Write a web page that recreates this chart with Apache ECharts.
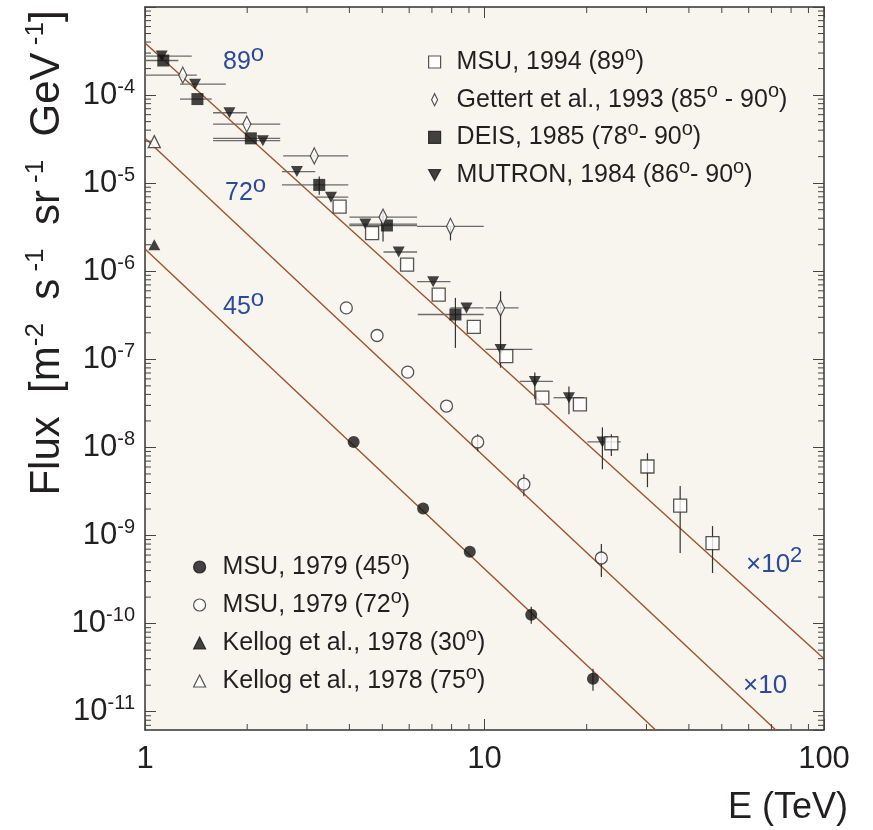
<!DOCTYPE html>
<html>
<head>
<meta charset="utf-8">
<script src="https://cdn.jsdelivr.net/npm/echarts@6/dist/echarts.min.js"></script>
<style>html,body{margin:0;padding:0;background:#fff}#c{width:873px;height:830px}</style>
</head>
<body>
<div id="c"></div>
<script>
// ---------------- data ----------------
// MUTRON, 1984 (86°-90°)
const mutronE   = [1.12, 1.404, 1.773, 2.224, 2.802, 3.53, 4.457, 5.588, 7.06, 8.85, 11.15, 14.07, 17.73, 22.25];
const mutronF   = [2.77e-4, 1.33e-4, 6.30e-5, 3.04e-5, 1.353e-5, 6.94e-6, 3.43e-6, 1.654e-6, 7.62e-7, 3.84e-7, 1.295e-7, 5.62e-8, 3.67e-8, 1.154e-8];
const mutronELo = [1.0, 1.268, 1.587, 1.587, 2.531, 3.173, 4.0, 5.04, 6.33, 7.94, 10.07, 12.71, 15.98, 20.09];
const mutronEHi = [1.373, 1.73, 1.995, 2.502, 3.173, 3.97, 6.33, 6.33, 7.94, 9.93, 13.83, 15.91, 19.59, 25.19];
const mutronFLo = [0, 0, 0, 0, 0, 0, 0, 0, 0, 0, 0, 3.52e-8, 2.38e-8, 5.66e-9];
const mutronFHi = [0, 0, 0, 0, 0, 0, 0, 0, 0, 0, 0, 7.11e-8, 4.93e-8, 1.69e-8];

// DEIS, 1985 (78°-90°)
const deisE   = [1.132, 1.427, 2.05, 3.26, 5.16, 8.21];
const deisF   = [2.47e-4, 9.01e-5, 3.23e-5, 9.56e-6, 3.31e-6, 3.23e-7];
const deisELo = [1.0, 1.268, 1.587, 2.531, 4.0, 6.36];
const deisEHi = [1.254, 1.573, 2.502, 3.97, 6.33, 9.95];
const deisFLo = [0, 0, 0, 7.37e-6, 0, 1.35e-7];
const deisFHi = [0, 0, 0, 1.19e-5, 0, 4.99e-7];

// Gettert et al., 1993 (85°-90°)
const gettertE   = [1.292, 1.995, 3.152, 5.025, 7.94, 11.15];
const gettertF   = [1.684e-4, 4.69e-5, 2.04e-5, 4.12e-6, 3.23e-6, 3.84e-7];
const gettertELo = [1.0, 1.587, 2.553, 4.0, 6.33, 10.07];
const gettertEHi = [1.421, 2.502, 3.97, 6.33, 9.95, 12.6];
const gettertFLo = [0, 0, 0, 2.18e-6, 2.24e-6, 8.03e-8];
const gettertFHi = [0, 0, 0, 4.77e-6, 3.23e-6, 5.92e-7];

// MSU, 1994 (89°)
const msu94E   = [3.743, 4.665, 5.915, 7.33, 9.30, 11.59, 14.80, 19.1, 23.64, 30.2, 37.7, 46.95];
const msu94F   = [5.43e-6, 2.71e-6, 1.188e-6, 5.43e-7, 2.34e-7, 1.087e-7, 3.67e-8, 3.08e-8, 1.116e-8, 6.08e-9, 2.18e-9, 8.22e-10];
const msu94FLo = [0, 0, 0, 0, 0, 0, 0, 0, 8.01e-9, 3.54e-9, 6.34e-10, 3.76e-10];
const msu94FHi = [0, 0, 0, 0, 0, 0, 0, 0, 1.41e-8, 8.6e-9, 3.66e-9, 1.28e-9];

// MSU, 1979 (72°)
const msu72E   = [3.917, 4.826, 5.94, 7.73, 9.55, 13.06, 22.09];
const msu72F   = [3.84e-7, 1.865e-7, 7.16e-8, 2.95e-8, 1.154e-8, 3.83e-9, 5.56e-10];
const msu72FLo = [0, 0, 0, 0, 9.06e-9, 2.8e-9, 3.39e-10];
const msu72FHi = [0, 0, 0, 0, 1.41e-8, 4.97e-9, 8.02e-10];

// MSU, 1979 (45°)
const msu45E   = [4.117, 6.595, 9.05, 13.73, 20.87];
const msu45F   = [1.154e-8, 2.03e-9, 6.55e-10, 1.258e-10, 2.37e-11];
const msu45FLo = [0, 0, 0, 9.95e-11, 1.73e-11];
const msu45FHi = [0, 0, 0, 1.55e-10, 3.08e-11];

// Kellog et al., 1978
const kellog30E = [1.065];
const kellog30F = [2.0e-6];
const kellog75E = [1.065];
const kellog75F = [2.96e-5];

// fitted power-law lines (end points at E = 1 and E = 100 TeV)
const lineE   = [1, 100];
const line89F = [3.91e-4, 4.0e-11];
const line72F = [3.23e-5, 1.9e-12];
const line45F = [1.79e-6, 9.8e-14];

// axes
const X_MIN = 1, X_MAX = 100, Y_MIN = 6.2e-12, Y_MAX = 1e-3;
const xTickLabels = ['1', '10', '100'];
const minorMult = [2, 3, 4, 5, 6, 7, 8, 9];
const xDecades = [1, 10];
const yDecades = [1e-12, 1e-11, 1e-10, 1e-9, 1e-8, 1e-7, 1e-6, 1e-5, 1e-4];

const seriesNames = {
  msu94: 'MSU, 1994 (89°)',
  gettert: 'Gettert et al., 1993 (85° - 90°)',
  deis: 'DEIS, 1985 (78°- 90°)',
  mutron: 'MUTRON, 1984 (86°- 90°)',
  msu45: 'MSU, 1979 (45°)',
  msu72: 'MSU, 1979 (72°)',
  kellog30: 'Kellog et al., 1978 (30°)',
  kellog75: 'Kellog et al., 1978 (75°)'
};

// ---------------- helpers ----------------
const FONT = '"Liberation Sans", Arial, Helvetica, sans-serif';
const INK = '#231f20';
const BLUE = '#2b4a9b';
const FIT = '#a0522d';

function pts(E, F) { return E.map((e, i) => [e, F[i]]); }
function errs(E, F, eLo, eHi, fLo, fHi) {
  return E.map((e, i) => [e, F[i], eLo ? eLo[i] : 0, eHi ? eHi[i] : 0, fLo ? fLo[i] : 0, fHi ? fHi[i] : 0]);
}
const xMinor = [];
xDecades.forEach(d => minorMult.forEach(m => { const v = m * d; if (v > X_MIN && v < X_MAX) xMinor.push(v); }));
const yMinor = [];
yDecades.forEach(d => minorMult.forEach(m => { const v = m * d; if (v > Y_MIN && v < Y_MAX) yMinor.push(v); }));

function errRender(params, api) {
  const E = api.value(0), F = api.value(1);
  const eLo = api.value(2), eHi = api.value(3), fLo = api.value(4), fHi = api.value(5);
  const children = [];
  if (eLo > 0 && eHi > 0) {
    const a = api.coord([eLo, F]), b = api.coord([eHi, F]);
    children.push({ type: 'line', shape: { x1: a[0], y1: a[1], x2: b[0], y2: b[1] }, style: { stroke: '#6b6b6b', lineWidth: 1.3 } });
  }
  if (fLo > 0 && fHi > 0) {
    const a = api.coord([E, fLo]), b = api.coord([E, fHi]);
    children.push({ type: 'line', shape: { x1: a[0], y1: a[1], x2: b[0], y2: b[1] }, style: { stroke: '#333', lineWidth: 1.2 } });
  }
  return { type: 'group', children: children };
}
function errSeries(data) {
  return { type: 'custom', renderItem: errRender, data: data, encode: { x: 0, y: 1 }, clip: true, silent: true, z: 3 };
}

function xMinorRender(params, api) {
  const cs = params.coordSys;
  const px = api.coord([api.value(0), Y_MAX])[0];
  const yb = cs.y + cs.height, yt = cs.y;
  return { type: 'group', children: [
    { type: 'line', shape: { x1: px, y1: yb, x2: px, y2: yb - 6 }, style: { stroke: '#444', lineWidth: 1 } },
    { type: 'line', shape: { x1: px, y1: yt, x2: px, y2: yt + 6 }, style: { stroke: '#444', lineWidth: 1 } }
  ] };
}
function yMinorRender(params, api) {
  const cs = params.coordSys;
  const py = api.coord([X_MIN, api.value(1)])[1];
  const xl = cs.x, xr = cs.x + cs.width;
  return { type: 'group', children: [
    { type: 'line', shape: { x1: xl, y1: py, x2: xl + 6, y2: py }, style: { stroke: '#444', lineWidth: 1 } },
    { type: 'line', shape: { x1: xr, y1: py, x2: xr - 6, y2: py }, style: { stroke: '#444', lineWidth: 1 } }
  ] };
}

function xAxisDef(pos, showLabel) {
  return {
    type: 'log', logBase: 10, min: X_MIN, max: X_MAX, position: pos,
    axisLine: { show: true, onZero: false, lineStyle: { color: '#333', width: 1.5 } },
    axisTick: { show: true, inside: true, length: 11, lineStyle: { color: '#444', width: 1 } },
    axisLabel: {
      show: showLabel, margin: 11, fontSize: 31, lineHeight: 36, color: INK, fontFamily: FONT,
      formatter: function (v) { const i = Math.round(Math.log10(v)); return xTickLabels[i] || ''; }
    },
    splitLine: { show: false }, minorTick: { show: false }, minorSplitLine: { show: false }
  };
}
function yAxisDef(pos, showLabel) {
  return {
    type: 'log', logBase: 10, min: Y_MIN, max: Y_MAX, position: pos,
    axisLine: { show: true, onZero: false, lineStyle: { color: '#333', width: 1.5 } },
    axisTick: { show: true, inside: true, length: 11, lineStyle: { color: '#444', width: 1 } },
    axisLabel: {
      show: showLabel, margin: 10, color: INK, fontFamily: FONT, showMaxLabel: false, showMinLabel: false,
      formatter: function (v) {
        const e = Math.log10(v), r = Math.round(e);
        if (Math.abs(e - r) > 1e-6 || r >= -3) return '';
        return '{b|10}{s|' + r + '}';
      },
      rich: {
        b: { fontSize: 31, lineHeight: 36, color: INK, fontFamily: FONT },
        s: { fontSize: 20, lineHeight: 11, verticalAlign: 'top', color: INK, fontFamily: FONT }
      }
    },
    splitLine: { show: false }, minorTick: { show: false }, minorSplitLine: { show: false }
  };
}

function legendDef(names, left, top, gap, pad) {
  return {
    orient: 'vertical', left: left, top: top, padding: 0, itemGap: gap,
    itemWidth: 12, itemHeight: 12, selectedMode: false, symbolKeepAspect: true,
    data: names,
    itemStyle: { borderWidth: 1.2 },
    formatter: function (n) { return n.replace(/°/g, '{s|o}'); },
    textStyle: {
      fontFamily: FONT, fontSize: 25, color: INK, lineHeight: 36, padding: [0, 0, 0, pad],
      rich: { s: { fontSize: 20, lineHeight: 12, verticalAlign: 'top', color: INK, fontFamily: FONT } }
    }
  };
}

function annot(x, y, txt, size, supSize) {
  return {
    type: 'text', x: x, y: y, silent: true,
    style: {
      text: txt, fill: BLUE, fontSize: size, fontFamily: FONT, lineHeight: size + 14,
      align: 'left', verticalAlign: 'middle',
      rich: { s: { fontSize: supSize, lineHeight: 10, verticalAlign: 'top', fill: BLUE, fontFamily: FONT } }
    }
  };
}

const filled = '#141414';
const openStyle = { color: '#ffffff', borderColor: '#2a2a2a', borderWidth: 1.3 };
const fillStyle = { color: filled, borderColor: filled, borderWidth: 0 };
const downTri = 'path://M0,0L10,0L5,9Z';
const slimDiamond = 'path://M4,0L8,8L4,16L0,8Z';

function scatter(name, data, symbol, size, style) {
  return { name: name, type: 'scatter', data: data, symbol: symbol, symbolSize: size, itemStyle: style, z: 5,
    emphasis: { disabled: true }, clip: true };
}
function fitLine(F) {
  return { type: 'line', data: pts(lineE, F), showSymbol: false, symbol: 'none', silent: true, z: 2,
    lineStyle: { color: FIT, width: 1.4 }, clip: true, emphasis: { disabled: true } };
}

const option = {
  animation: false,
  backgroundColor: '#ffffff',
  textStyle: { fontFamily: FONT },
  grid: { left: 145, right: 49, top: 7, bottom: 100, show: true, backgroundColor: '#f8f5ee', borderWidth: 0,
          containLabel: false, outerBoundsMode: 'none' },
  xAxis: [xAxisDef('bottom', true), xAxisDef('top', false)],
  yAxis: [yAxisDef('left', true), yAxisDef('right', false)],
  legend: [
    legendDef([seriesNames.msu94, seriesNames.gettert, seriesNames.deis, seriesNames.mutron], 428, 44, 1.7, 11),
    legendDef([seriesNames.msu45, seriesNames.msu72, seriesNames.kellog30, seriesNames.kellog75], 193, 549, 2, 12)
  ],
  graphic: [
    annot(223, 62, '89{s|o}', 25, 24),
    annot(225, 193, '72{s|o}', 25, 24),
    annot(223, 307, '45{s|o}', 25, 24),
    annot(746, 565, '\u00d710{s|2}', 26, 22),
    annot(743, 686, '\u00d710', 26, 22),
    {
      type: 'text', x: 47, y: 253, rotation: Math.PI / 2, silent: true,
      style: {
        text: 'Flux  [m{s|-2}  s{s| -1}  sr{s| -1}  GeV{s| -1}]',
        fill: INK, fontSize: 42, fontFamily: FONT, lineHeight: 48, align: 'center', verticalAlign: 'middle',
        rich: { s: { fontSize: 26, lineHeight: 16, verticalAlign: 'top', fill: INK, fontFamily: FONT } }
      }
    },
    {
      type: 'text', x: 848, y: 808, silent: true,
      style: { text: 'E (TeV)', fill: INK, fontSize: 36, fontFamily: FONT, align: 'right', verticalAlign: 'middle' }
    }
  ],
  series: [
    { type: 'custom', renderItem: xMinorRender, data: xMinor.map(v => [v, Y_MAX]), encode: { x: 0, y: 1 }, silent: true, z: 6 },
    { type: 'custom', renderItem: yMinorRender, data: yMinor.map(v => [X_MIN, v]), encode: { x: 0, y: 1 }, silent: true, z: 6 },
    fitLine(line89F), fitLine(line72F), fitLine(line45F),
    errSeries(errs(mutronE, mutronF, mutronELo, mutronEHi, mutronFLo, mutronFHi)),
    errSeries(errs(deisE, deisF, deisELo, deisEHi, deisFLo, deisFHi)),
    errSeries(errs(gettertE, gettertF, gettertELo, gettertEHi, gettertFLo, gettertFHi)),
    errSeries(errs(msu94E, msu94F, null, null, msu94FLo, msu94FHi)),
    errSeries(errs(msu72E, msu72F, null, null, msu72FLo, msu72FHi)),
    errSeries(errs(msu45E, msu45F, null, null, msu45FLo, msu45FHi)),
    scatter(seriesNames.mutron, pts(mutronE, mutronF), downTri, [12, 11], fillStyle),
    scatter(seriesNames.deis, pts(deisE, deisF), 'rect', 12, fillStyle),
    scatter(seriesNames.gettert, pts(gettertE, gettertF), slimDiamond, [8, 16], openStyle),
    scatter(seriesNames.msu94, pts(msu94E, msu94F), 'rect', 13, openStyle),
    scatter(seriesNames.msu72, pts(msu72E, msu72F), 'circle', 12, openStyle),
    scatter(seriesNames.msu45, pts(msu45E, msu45F), 'circle', 12, fillStyle),
    scatter(seriesNames.kellog30, pts(kellog30E, kellog30F), 'triangle', [12, 11], fillStyle),
    scatter(seriesNames.kellog75, pts(kellog75E, kellog75F), 'triangle', [12, 12], openStyle)
  ]
};

const chart = echarts.init(document.getElementById('c'), null, { renderer: 'canvas' });
chart.setOption(option);
</script>
</body>
</html>
